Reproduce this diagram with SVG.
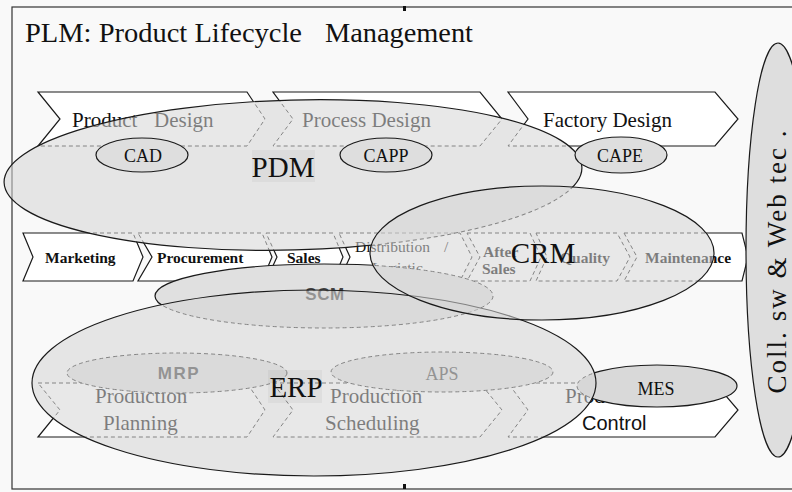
<svg xmlns="http://www.w3.org/2000/svg" width="792" height="492" viewBox="0 0 792 492">
<style>
.cf{fill:#fff;stroke:none}
.ln{fill:none;stroke:#1a1a1a;stroke-width:1.2}
.dl{fill:none;stroke:#222;stroke-width:1;stroke-dasharray:4 3}
.big{fill:#d6d6d6;fill-opacity:.55;stroke:#1a1a1a;stroke-width:1.2}
.sm{fill:#dedede;stroke:#1a1a1a;stroke-width:1.2}
.opq{fill:#e0e0e0;stroke:none}
.sf{font-family:"Liberation Serif","Times New Roman",serif;fill:#111}
.ss{font-family:"Liberation Sans",Arial,sans-serif;fill:#111}
.mid{font-size:15.5px;font-weight:bold}
.bot{font-size:21px}
.top{font-size:21px}
.c{text-anchor:middle}
</style>
<defs>
<ellipse id="ePDM" cx="293" cy="175" rx="289" ry="75" transform="rotate(-1.5 293 175)"/>
<ellipse id="eCRM" cx="542" cy="253" rx="172" ry="67"/>
<ellipse id="eERP" cx="314" cy="383" rx="282" ry="93"/>
<ellipse id="eSCM" cx="324" cy="296" rx="169" ry="32"/>
<ellipse id="eMES" cx="657" cy="386" rx="80" ry="21"/>
<path id="pPD" d="M38,92 L247,92 L265,119 L247,146 L38,146 L60,119 Z"/>
<path id="pPrD" d="M273,92 L480,92 L502,119 L480,146 L273,146 L293,119 Z"/>
<path id="pFD" d="M508,92 L715,92 L738,119 L715,146 L508,146 L528,119 Z"/>
<path id="pMk" d="M23,233 L133,233 L143,257 L133,281 L23,281 L33,257 Z"/>
<path id="pPc" d="M138,233 L262,233 L272,257 L262,281 L138,281 L152,257 Z"/>
<path id="pSa" d="M266,233 L333,233 L343,257 L333,281 L266,281 L277,257 Z"/>
<path id="pDi" d="M339,233 L460,233 L472,257 L460,281 L339,281 L350,257 Z"/>
<path id="pAS" d="M467,233 L530,233 L541,257 L530,281 L467,281 L480,257 Z"/>
<path id="pQu" d="M536,233 L617,233 L630,257 L617,281 L536,281 L547,257 Z"/>
<path id="pMa" d="M624,233 L742,233 L748,257 L742,281 L624,281 L637,257 Z"/>
<path id="pPP" d="M38,383 L247,383 L265,410 L247,437 L38,437 L60,410 Z"/>
<path id="pPS" d="M273,383 L480,383 L502,410 L480,437 L273,437 L293,410 Z"/>
<path id="pPCt" d="M508,383 L715,383 L738,410 L715,437 L508,437 L528,410 Z"/>
<mask id="mOut" maskUnits="userSpaceOnUse" x="0" y="0" width="792" height="492">
<rect x="0" y="0" width="792" height="492" fill="#fff"/>
<use href="#ePDM" fill="#000"/><use href="#eCRM" fill="#000"/><use href="#eERP" fill="#000"/>
</mask>
<mask id="mIn" maskUnits="userSpaceOnUse" x="0" y="0" width="792" height="492">
<use href="#ePDM" fill="#fff"/><use href="#eCRM" fill="#fff"/><use href="#eERP" fill="#fff"/>
</mask>
<mask id="mOutC" maskUnits="userSpaceOnUse" x="0" y="0" width="792" height="492">
<rect x="0" y="0" width="792" height="492" fill="#fff"/>
<use href="#eCRM" fill="#000"/>
</mask>
<mask id="mInC" maskUnits="userSpaceOnUse" x="0" y="0" width="792" height="492">
<use href="#eCRM" fill="#fff"/>
</mask>
</defs>

<rect x="0" y="0" width="792" height="492" fill="#f9f9f9"/>
<rect x="12" y="7" width="800" height="482" fill="none" stroke="#333" stroke-width="1.2"/>

<!-- top row -->
<g id="product-design">
<use href="#pPD" class="cf"/><use href="#pPD" class="ln" mask="url(#mOut)"/><use href="#pPD" class="dl" mask="url(#mIn)"/>
<text class="sf top" y="127"><tspan x="72">Product</tspan><tspan x="154">Design</tspan></text>
</g>
<g id="process-design">
<use href="#pPrD" class="cf"/><use href="#pPrD" class="ln" mask="url(#mOut)"/><use href="#pPrD" class="dl" mask="url(#mIn)"/>
<text class="sf top" x="302" y="127">Process Design</text>
</g>
<g id="factory-design">
<use href="#pFD" class="cf"/><use href="#pFD" class="ln" mask="url(#mOut)"/><use href="#pFD" class="dl" mask="url(#mIn)"/>
<text class="sf top" x="543" y="127">Factory Design</text>
</g>

<!-- middle row -->
<g id="marketing">
<use href="#pMk" class="cf"/><use href="#pMk" class="ln" mask="url(#mOut)"/><use href="#pMk" class="dl" mask="url(#mIn)"/>
<text class="sf mid" x="45" y="263">Marketing</text>
</g>
<g id="procurement">
<use href="#pPc" class="cf"/><use href="#pPc" class="ln" mask="url(#mOut)"/><use href="#pPc" class="dl" mask="url(#mIn)"/>
<text class="sf mid" x="157" y="263">Procurement</text>
</g>
<g id="sales">
<use href="#pSa" class="cf"/><use href="#pSa" class="ln" mask="url(#mOut)"/><use href="#pSa" class="dl" mask="url(#mIn)"/>
<text class="sf mid" x="287" y="263">Sales</text>
</g>
<g id="distribution">
<use href="#pDi" class="cf"/><use href="#pDi" class="ln" mask="url(#mOut)"/><use href="#pDi" class="dl" mask="url(#mIn)"/>
<text class="sf mid" y="252" style="font-weight:normal"><tspan x="355">Distribution</tspan><tspan x="444">/</tspan></text>
<text class="sf mid" x="372" y="273" style="font-weight:normal">Logistic</text>
</g>
<g id="after-sales">
<use href="#pAS" class="cf"/><use href="#pAS" class="ln" mask="url(#mOut)"/><use href="#pAS" class="dl" mask="url(#mIn)"/>
<text class="sf mid" x="483" y="257">After</text>
<text class="sf mid" x="482" y="274">Sales</text>
</g>
<g id="quality">
<use href="#pQu" class="cf"/><use href="#pQu" class="ln" mask="url(#mOut)"/><use href="#pQu" class="dl" mask="url(#mIn)"/>
<text class="sf mid" x="560" y="263">Quality</text>
</g>
<g id="maintenance">
<use href="#pMa" class="cf"/><use href="#pMa" class="ln" mask="url(#mOut)"/><use href="#pMa" class="dl" mask="url(#mIn)"/>
<text class="sf mid" x="645" y="263">Maintenance</text>
</g>

<!-- bottom row -->
<g id="production-planning">
<use href="#pPP" class="cf"/><use href="#pPP" class="ln" mask="url(#mOut)"/><use href="#pPP" class="dl" mask="url(#mIn)"/>
<text class="sf bot" x="95" y="403">Production</text>
<text class="sf bot" x="103" y="430">Planning</text>
</g>
<g id="production-scheduling">
<use href="#pPS" class="cf"/><use href="#pPS" class="ln" mask="url(#mOut)"/><use href="#pPS" class="dl" mask="url(#mIn)"/>
<text class="sf bot" x="330" y="403">Production</text>
<text class="sf bot" x="325" y="430">Scheduling</text>
</g>
<g id="production-control">
<use href="#pPCt" class="cf"/><use href="#pPCt" class="ln" mask="url(#mOut)"/><use href="#pPCt" class="dl" mask="url(#mIn)"/>
<text class="sf bot" x="565" y="403">Production</text>
<text class="ss" x="582" y="430" font-size="20">Control</text>
</g>

<!-- opaque ellipses under the big ones -->
<g id="scm">
<use href="#eSCM" class="opq"/>
<use href="#eSCM" class="ln" mask="url(#mOut)"/><use href="#eSCM" class="dl" mask="url(#mIn)"/>
<text class="ss c" x="325" y="300" font-size="17" font-weight="bold" letter-spacing="0.5" style="fill:#444">SCM</text>
</g>
<g id="mrp">
<ellipse cx="177" cy="373" rx="110" ry="20" class="opq"/>
<ellipse cx="177" cy="373" rx="110" ry="20" class="dl"/>
<text class="ss c" x="179" y="379" font-size="17" font-weight="bold" letter-spacing="1.5" style="fill:#444">MRP</text>
</g>
<g id="aps">
<ellipse cx="442" cy="372" rx="111" ry="20" class="opq"/>
<ellipse cx="442" cy="372" rx="111" ry="20" class="dl"/>
<text class="sf c" x="442" y="380" font-size="18" style="fill:#444">APS</text>
</g>
<g id="mes">
<use href="#eMES" class="opq" style="fill:#d9d9d9"/>
<use href="#eMES" class="ln" mask="url(#mOut)"/><use href="#eMES" class="dl" mask="url(#mIn)"/>
<text class="sf c" x="656" y="395" font-size="18">MES</text>
</g>

<!-- big translucent ellipses -->
<g id="pdm">
<use href="#ePDM" class="big" style="stroke:none"/>
<use href="#ePDM" class="ln" mask="url(#mOutC)"/><use href="#ePDM" class="dl" mask="url(#mInC)"/>
<rect x="252" y="150" width="63" height="32" fill="#000" fill-opacity="0.04"/>
<text class="sf c" x="283" y="177" font-size="29">PDM</text>
</g>
<g id="erp">
<use href="#eERP" class="big"/>
<rect x="268" y="370" width="54" height="33" fill="#000" fill-opacity="0.04"/>
<text class="sf c" x="296" y="397" font-size="29">ERP</text>
</g>
<g id="crm">
<use href="#eCRM" class="big"/>
<text class="sf c" x="543" y="263" font-size="29">CRM</text>
</g>

<!-- small solid ellipses -->
<g id="cad">
<ellipse cx="142" cy="155" rx="46" ry="17" class="sm"/>
<text class="sf c" x="143" y="162" font-size="18">CAD</text>
</g>
<g id="capp">
<ellipse cx="386" cy="155" rx="46" ry="17" class="sm"/>
<text class="sf c" x="386" y="162" font-size="18">CAPP</text>
</g>
<g id="cape">
<ellipse cx="621" cy="155" rx="46" ry="18" class="sm"/>
<text class="sf c" x="620" y="162" font-size="18">CAPE</text>
</g>

<g id="coll-web">
<ellipse cx="778" cy="250" rx="32" ry="207" class="sm"/>
<text class="sf c" transform="translate(786,262) rotate(-90)" font-size="27" textLength="263" lengthAdjust="spacing">Coll. sw &amp; Web tec .</text>
</g>

<g id="connectors"/>

<g id="title">
<text class="sf" x="25" y="42" font-size="27" textLength="277" lengthAdjust="spacingAndGlyphs">PLM: Product Lifecycle</text>
<text class="sf" x="325" y="42" font-size="27" textLength="148" lengthAdjust="spacingAndGlyphs">Management</text>
</g>
<rect x="403" y="6" width="3" height="5" fill="#111"/>
<rect x="403" y="484" width="3" height="5" fill="#111"/>
</svg>
